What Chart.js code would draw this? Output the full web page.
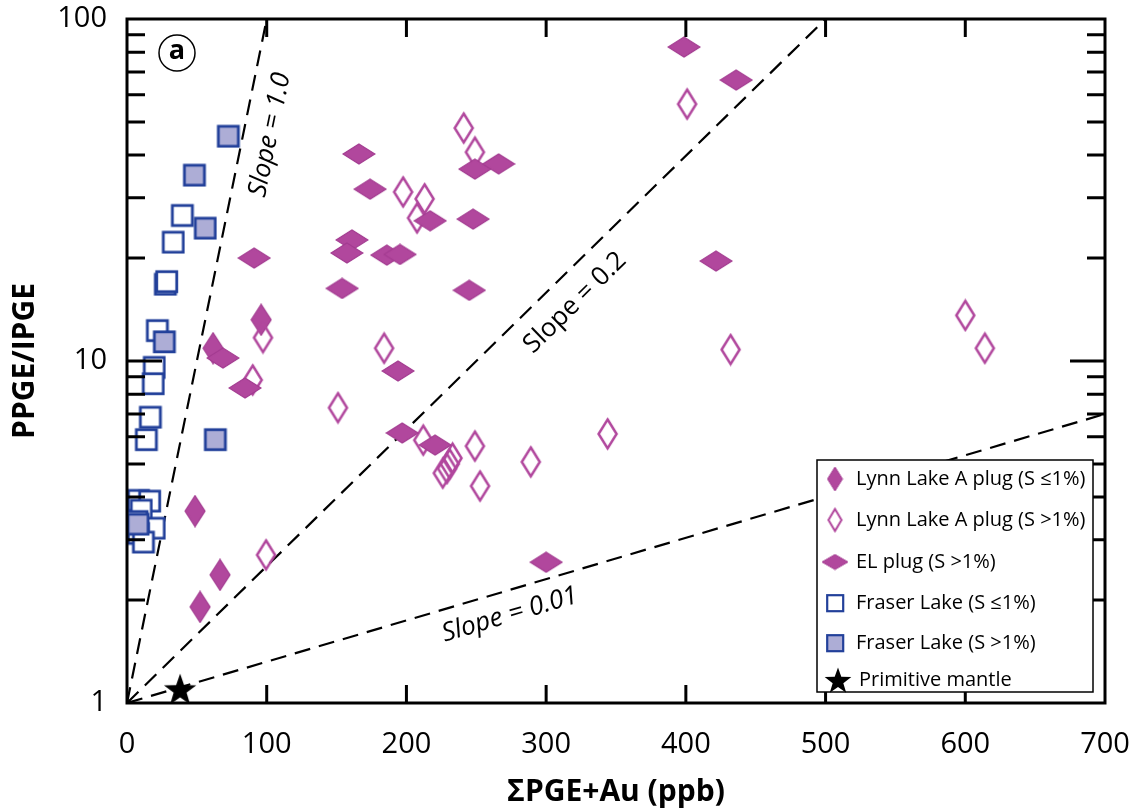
<!DOCTYPE html>
<html>
<head>
<meta charset="utf-8">
<script src="https://cdn.jsdelivr.net/npm/chart.js@4.4.0/dist/chart.umd.min.js"></script>
<style>
    html, body { margin: 0; background: #fff; }
</style>
</head>
<body>
<canvas id="chart" width="1139" height="810"></canvas>
<script>
// --- data (x = ΣPGE+Au ppb, y = PPGE/IPGE) ---
const lynnLowS = [[96, 13.2], [61.6, 10.9], [48.7, 3.64], [66.6, 2.37], [52.3, 1.91]]

const lynnHighS = [
    [400.9, 56.4], [241, 48], [249, 40.8], [197.6, 31.2], [213, 29.8], [207.6, 26.2],
    [97.3, 11.7], [90, 8.8], [184, 10.9], [151, 7.3], [99.5, 2.71], [212, 5.87],
    [226, 4.7], [229, 4.85], [231, 5.0], [233, 5.2], [249, 5.64], [252.7, 4.31],
    [289, 5.07], [344, 6.12], [600, 13.6], [614, 10.9], [432, 10.8]
]

const elPlug = [
    [398.7, 82.8], [436, 66.3], [249, 36.4], [266, 37.7], [166, 40.3], [174, 31.8],
    [217, 25.7], [247.7, 26], [161, 22.6], [157.4, 20.7], [186, 20.4], [195.4, 20.5],
    [91, 20], [154, 16.3], [245, 16.1], [68.7, 10.2], [84.5, 8.34], [194, 9.35],
    [421.6, 19.6], [197, 6.16], [220.5, 5.68], [300, 2.58]
]

const fraserLowS = [
    [39.4, 26.7], [32.9, 22.3], [27.2, 16.8], [28.2, 17.1], [21.5, 12.3], [19.3, 9.6],
    [18.6, 8.6], [16.5, 6.86], [13.6, 5.9], [8, 3.92], [16, 3.9], [10, 3.67],
    [19.3, 3.25], [8, 3.14], [11.5, 2.96], [7, 3.4]
]

const fraserHighS = [[72.3, 45.5], [48, 35], [55.8, 24.5], [26.5, 11.4], [63, 5.9], [7.7, 3.34]]

const primitiveMantle = [[38, 1.1]]

// reference lines from the origin (0, 1)
const slopeNames = ['Slope = 1.0', 'Slope = 0.2', 'Slope = 0.01']
const slopeEnds = [[100, 100], [500, 100], [700, 7]]
const slopeLabelAt = [[102.4, 45.8], [320.7, 14.8], [274, 1.81]]
const slopeItalic = [true, false, true]

const xTicks = [0, 100, 200, 300, 400, 500, 600, 700]
const yTicks = [1, 10, 100]
const yMinorTicks = [2, 3, 4, 5, 6, 7, 8, 9, 20, 30, 40, 50, 60, 70, 80, 90]

const legendLabels = [
    'Lynn Lake A plug (S \u22641%)',
    'Lynn Lake A plug (S >1%)',
    'EL plug (S >1%)',
    'Fraser Lake (S \u22641%)',
    'Fraser Lake (S >1%)',
    'Primitive mantle'
]

const MAGENTA = '#b1479d'
const MAGENTA_EDGE = '#a33c91'
const BLUE = '#22409a'
const LAVENDER = '#adadd6'
const FONT = '"Open Sans", "Noto Sans", sans-serif'

// --- marker images ---
const makeDiamond = (w, h, fill, stroke, lw) => {
    const c = document.createElement('canvas')
    c.width = w + lw * 2
    c.height = h + lw * 2
    const g = c.getContext('2d')
    const cx = c.width / 2, cy = c.height / 2
    g.beginPath()
    g.moveTo(cx, cy - h / 2)
    g.lineTo(cx + w / 2, cy)
    g.lineTo(cx, cy + h / 2)
    g.lineTo(cx - w / 2, cy)
    g.closePath()
    if (fill) { g.fillStyle = fill; g.fill() }
    g.lineJoin = 'miter'
    g.lineWidth = lw
    g.strokeStyle = stroke
    g.stroke()
    return c
}

const makeSquare = (s, fill, stroke, lw) => {
    const c = document.createElement('canvas')
    c.width = s + lw * 2
    c.height = s + lw * 2
    const g = c.getContext('2d')
    if (fill) { g.fillStyle = fill; g.fillRect(lw, lw, s, s) }
    g.lineWidth = lw
    g.strokeStyle = stroke
    g.strokeRect(lw, lw, s, s)
    return c
}

const makeStar = (r) => {
    const c = document.createElement('canvas')
    c.width = r * 2 + 2
    c.height = r * 2 + 2
    const g = c.getContext('2d')
    const cx = c.width / 2, cy = c.height / 2 + r * 0.1
    g.beginPath()
    for (let i = 0; i < 10; i++) {
        const rad = i % 2 === 0 ? r : r * 0.4
        const ang = -Math.PI / 2 + i * Math.PI / 5
        g.lineTo(cx + rad * Math.cos(ang), cy + rad * Math.sin(ang))
    }
    g.closePath()
    g.fillStyle = '#000'
    g.fill()
    return c
}

const markers = [
    makeDiamond(20, 31, MAGENTA, MAGENTA_EDGE, 1.2),
    makeDiamond(18, 29, null, MAGENTA, 2.5),
    makeDiamond(32, 20, MAGENTA, MAGENTA_EDGE, 1.2),
    makeSquare(20, '#fff', BLUE, 2.8),
    makeSquare(20, LAVENDER, BLUE, 2.8),
    makeStar(17)
]

const legendMarkers = [
    makeDiamond(15, 24, MAGENTA, MAGENTA_EDGE, 1),
    makeDiamond(13, 22, null, MAGENTA, 2),
    makeDiamond(26, 15, MAGENTA, MAGENTA_EDGE, 1),
    makeSquare(16, '#fff', BLUE, 2.2),
    makeSquare(16, LAVENDER, BLUE, 2.2),
    makeStar(14)
]

const toPoints = arr => arr.map(([x, y]) => ({x, y}))

const scatterSet = (label, data, marker, order) => ({
    type: 'scatter',
    label,
    data: toPoints(data),
    pointStyle: marker,
    pointRadius: 10,
    order
})

const lineSet = (end) => ({
    type: 'line',
    data: [{x: 0, y: 1}, {x: end[0], y: end[1]}],
    borderColor: '#000',
    borderWidth: 2.2,
    borderDash: [16, 9],
    pointRadius: 0,
    fill: false,
    order: 10
})

// axis box, inward ticks, line labels, panel tag and legend
const framePlugin = {
    id: 'frame',
    afterDatasetsDraw(chart) {
        const {ctx, chartArea: a, scales: {x, y}} = chart
        ctx.save()
        ctx.strokeStyle = '#000'
        ctx.lineWidth = 3
        ctx.strokeRect(a.left, a.top, a.right - a.left, a.bottom - a.top)

        ctx.beginPath()
        xTicks.slice(1, -1).forEach(v => {
            const px = x.getPixelForValue(v)
            ctx.moveTo(px, a.bottom); ctx.lineTo(px, a.bottom - 18)
            ctx.moveTo(px, a.top); ctx.lineTo(px, a.top + 18)
        })
        yMinorTicks.forEach(v => {
            const py = y.getPixelForValue(v)
            ctx.moveTo(a.left, py); ctx.lineTo(a.left + 18, py)
            ctx.moveTo(a.right, py); ctx.lineTo(a.right - 18, py)
        })
        yTicks.slice(1, -1).forEach(v => {
            const py = y.getPixelForValue(v)
            ctx.moveTo(a.left, py); ctx.lineTo(a.left + 35, py)
            ctx.moveTo(a.right, py); ctx.lineTo(a.right - 35, py)
        })
        ctx.stroke()

        // slope labels, turned to follow their lines
        const x0 = x.getPixelForValue(0), y0 = y.getPixelForValue(1)
        ctx.fillStyle = '#000'
        ctx.textAlign = 'center'
        ctx.textBaseline = 'middle'
        slopeNames.forEach((name, i) => {
            const ex = x.getPixelForValue(slopeEnds[i][0])
            const ey = y.getPixelForValue(slopeEnds[i][1])
            const ang = Math.atan2(ey - y0, ex - x0)
            ctx.save()
            ctx.translate(x.getPixelForValue(slopeLabelAt[i][0]), y.getPixelForValue(slopeLabelAt[i][1]))
            ctx.rotate(ang)
            ctx.font = (slopeItalic[i] ? 'italic ' : '') + '26px ' + FONT
            ctx.fillText(name, 0, 0)
            ctx.restore()
        })

        // panel tag
        ctx.beginPath()
        ctx.lineWidth = 1.5
        ctx.arc(a.left + 50, a.top + 34, 18, 0, Math.PI * 2)
        ctx.stroke()
        ctx.font = 'bold 27px ' + FONT
        ctx.fillText('a', a.left + 50, a.top + 32)

        // legend
        const lx = a.right - 288, ly = a.bottom - 243, lw = 276, lh = 232
        ctx.fillStyle = '#fff'
        ctx.fillRect(lx, ly, lw, lh)
        ctx.lineWidth = 1.5
        ctx.strokeRect(lx, ly, lw, lh)
        const rowY = [19, 60, 102, 143, 183, 220]
        ctx.fillStyle = '#000'
        ctx.textAlign = 'left'
        ctx.font = '20px ' + FONT
        legendLabels.forEach((label, i) => {
            const m = legendMarkers[i]
            const cx = lx + 18 + (i === 5 ? 3 : 0)
            ctx.drawImage(m, cx - m.width / 2, ly + rowY[i] - m.height / 2)
            ctx.fillText(label, lx + 39 + (i === 5 ? 3 : 0), ly + rowY[i])
        })
        ctx.restore()
    }
}

const chart = new Chart(document.getElementById('chart').getContext('2d'), {
    data: {
        datasets: [
            scatterSet(legendLabels[0], lynnLowS, markers[0], 4),
            scatterSet(legendLabels[1], lynnHighS, markers[1], 3),
            scatterSet(legendLabels[2], elPlug, markers[2], 2),
            scatterSet(legendLabels[3], fraserLowS, markers[3], 6),
            scatterSet(legendLabels[4], fraserHighS, markers[4], 5),
            scatterSet(legendLabels[5], primitiveMantle, markers[5], 0),
            ...slopeEnds.map(lineSet)
        ]
    },
    options: {
        responsive: false,
        animation: false,
        events: [],
        layout: {
            padding: {top: 19, right: 34, left: 0, bottom: 0}
        },
        plugins: {
            legend: {display: false},
            tooltip: {enabled: false}
        },
        scales: {
            x: {
                type: 'linear',
                min: 0,
                max: 700,
                grid: {display: false},
                border: {display: false},
                afterFit: s => {
                    s.height = 107
                    s.paddingLeft = 0
                    s.paddingRight = 0
                },
                ticks: {
                    stepSize: 100,
                    padding: 16,
                    color: '#000',
                    font: {family: FONT, size: 29}
                },
                title: {
                    display: true,
                    text: '\u03a3PGE+Au (ppb)',
                    color: '#000',
                    padding: {top: 0, bottom: 0},
                    font: {family: FONT, size: 30, weight: 'bold'}
                }
            },
            y: {
                type: 'logarithmic',
                min: 1,
                max: 100,
                grid: {display: false},
                border: {display: false},
                afterFit: s => {
                    s.width = 127
                    s.paddingTop = 0
                    s.paddingBottom = 0
                },
                afterBuildTicks: s => { s.ticks = yTicks.map(v => ({value: v})) },
                ticks: {
                    autoSkip: false,
                    padding: 12,
                    color: '#000',
                    font: {family: FONT, size: 29},
                    callback: v => String(v)
                },
                title: {
                    display: true,
                    text: 'PPGE/IPGE',
                    color: '#000',
                    padding: {top: 7, bottom: 0},
                    font: {family: FONT, size: 30, weight: 'bold'}
                }
            }
        }
    },
    plugins: [framePlugin]
})
</script>
</body>
</html>
